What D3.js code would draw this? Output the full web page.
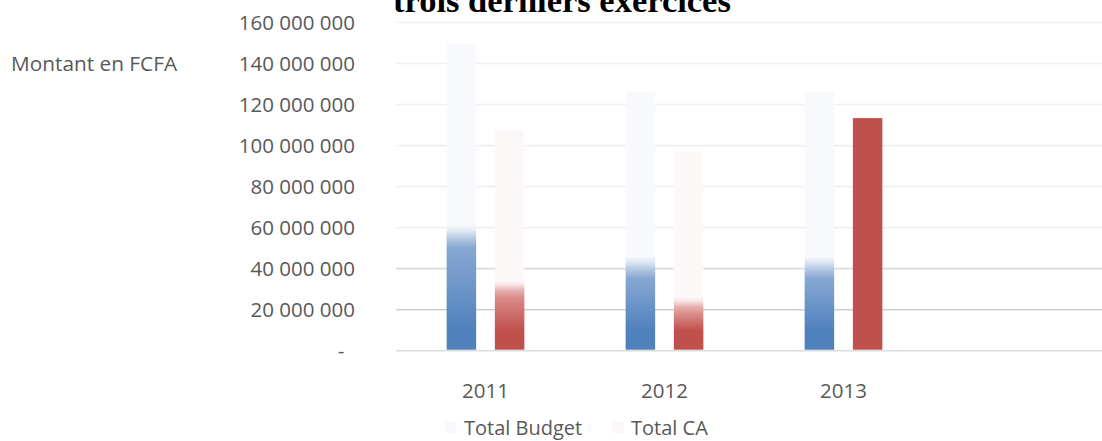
<!DOCTYPE html>
<html>
<head>
<meta charset="utf-8">
<script src="https://cdn.jsdelivr.net/npm/d3@7/dist/d3.min.js"></script>
<style>
  html, body { margin: 0; padding: 0; background: #fff; }
  svg { display: block; }
  text { font-family: "Open Sans", sans-serif; fill: #595959; }
</style>
</head>
<body>
<svg id="chart" width="1102" height="441"></svg>
<script>
// ---- Data ----
const categories = ["2011", "2012", "2013", ""];
const seriesNames = ["Total Budget", "Total CA"];
const budgetTotal = [149500000, 126000000, 126000000, null];
const budgetSolid = [60000000, 45000000, 45000000, null];   // level where the solid fill fades out
const caTotal = [107500000, 97300000, 113400000, null];
const caSolid = [33000000, 25000000, 113400000, null];
const yTicks = [0, 20000000, 40000000, 60000000, 80000000, 100000000, 120000000, 140000000, 160000000];
const titleText = "trois derniers exercices";
const yAxisLabel = "Montant en FCFA";

// ---- Layout ----
const plot = { left: 396, right: 1112, top: 22.5, bottom: 350.7 };
const svg = d3.select("#chart");
const defs = svg.append("defs");

const x0 = d3.scaleBand().domain(categories).range([plot.left, plot.right]).paddingInner(0).paddingOuter(0);
const x1 = d3.scaleBand().domain(seriesNames).range([0, x0.bandwidth()]).paddingInner(0.388).paddingOuter(1.05);
const y = d3.scaleLinear().domain([0, 160000000]).range([plot.bottom, plot.top]);

const loc = d3.formatLocale({ decimal: ",", thousands: " ", grouping: [3], currency: ["", ""] });
const fmt = loc.format(",.0f");

// Gridlines
const gridColor = v => v === 20000000 ? "#cfcfcf" : (v === 40000000 || v === 0) ? "#dcdcdc" : "#efefef";
svg.append("g").selectAll("line").data(yTicks).join("line")
  .attr("x1", plot.left).attr("x2", plot.right)
  .attr("y1", d => y(d)).attr("y2", d => y(d))
  .attr("stroke", d => gridColor(d)).attr("stroke-width", 1.6);

// Y axis tick labels
const yAxis = d3.axisLeft(y).tickValues(yTicks).tickSize(0).tickPadding(0)
  .tickFormat(d => d === 0 ? "-\u00a0\u00a0" : fmt(d));
const gy = svg.append("g").attr("transform", "translate(355,0)").call(yAxis);
gy.select(".domain").remove();
gy.selectAll("text").attr("font-size", 20.5).attr("fill", "#595959")
  .style("font-family", '"Open Sans", sans-serif').attr("dy", "0.35em").attr("x", 0);

// X axis category labels
const xAxis = d3.axisBottom(x0).tickSize(0).tickPadding(0);
const gx = svg.append("g").attr("transform", "translate(0,391)").call(xAxis);
gx.select(".domain").remove();
gx.selectAll("text").attr("font-size", 20.5).attr("fill", "#595959")
  .style("font-family", '"Open Sans", sans-serif').attr("dy", "0.35em").attr("y", 0);

// Bars with gradient fills
const palettes = {
  "Total Budget": { solid: "#4f81bd", mid: "#87a8d2", soft: "#b8cbe5", faint: "#e2eaf5", pale: "#f7f9fc", fade: 20 },
  "Total CA":     { solid: "#c0504d", mid: "#d98a88", soft: "#e6b0af", faint: "#f6dfdf", pale: "#fdf8f8", fade: 15 }
};

const bars = [];
categories.forEach((c, i) => {
  if (budgetTotal[i] != null) bars.push({ cat: c, s: "Total Budget", v: budgetTotal[i], f: budgetSolid[i], i });
  if (caTotal[i] != null) bars.push({ cat: c, s: "Total CA", v: caTotal[i], f: caSolid[i], i });
});

bars.forEach((b, k) => {
  const p = palettes[b.s];
  const y0 = y(0), yt = y(b.v), yf = y(b.f);
  const hgt = y0 - yt;
  const off = py => Math.max(0, Math.min(1, (y0 - py) / hgt));
  const g = defs.append("linearGradient").attr("id", "g" + k)
    .attr("gradientUnits", "userSpaceOnUse")
    .attr("x1", 0).attr("x2", 0).attr("y1", y0).attr("y2", yt);
  let stops;
  if (b.f >= b.v) {
    stops = [[0, p.solid], [1, p.solid]];
  } else {
    stops = [
      [0, p.solid],
      [off(y0 - 20), p.solid],
      [off(yf + p.fade), p.mid],
      [off(yf + p.fade * 0.5), p.soft],
      [off(yf + p.fade * 0.15), p.faint],
      [off(yf - 2), p.pale],
      [1, p.pale]
    ];
  }
  stops.forEach(s => g.append("stop").attr("offset", s[0]).attr("stop-color", s[1]));
  b.grad = "url(#g" + k + ")";
});

svg.append("g").selectAll("rect").data(bars).join("rect")
  .attr("x", d => x0(d.cat) + x1(d.s))
  .attr("width", x1.bandwidth())
  .attr("y", d => y(d.v))
  .attr("height", d => y(0) - y(d.v) - 1)
  .attr("fill", d => d.grad);

// Title (cut at the top, as in the reference)
svg.append("text").attr("x", 393).attr("y", 12)
  .style("font-family", '"Liberation Serif", "Times New Roman", serif')
  .attr("font-weight", "bold").attr("font-size", 34.5)
  .style("fill", "#000")
  .text(titleText);

// Y axis title
svg.append("text").attr("x", 11).attr("y", y(140000000)).attr("dy", "0.35em")
  .attr("font-size", 20.8).text(yAxisLabel);

// Legend
const legend = svg.append("g");
const legendX = [445, 612];
seriesNames.forEach((s, i) => {
  const gL = legend.append("g").attr("transform", `translate(${legendX[i]},421.5)`);
  gL.append("rect").attr("width", 11.5).attr("height", 11.5).attr("fill", palettes[s].pale);
  gL.append("text").attr("x", 19).attr("y", 6).attr("dy", "0.35em").attr("font-size", 20).text(s);
});
</script>
</body>
</html>
